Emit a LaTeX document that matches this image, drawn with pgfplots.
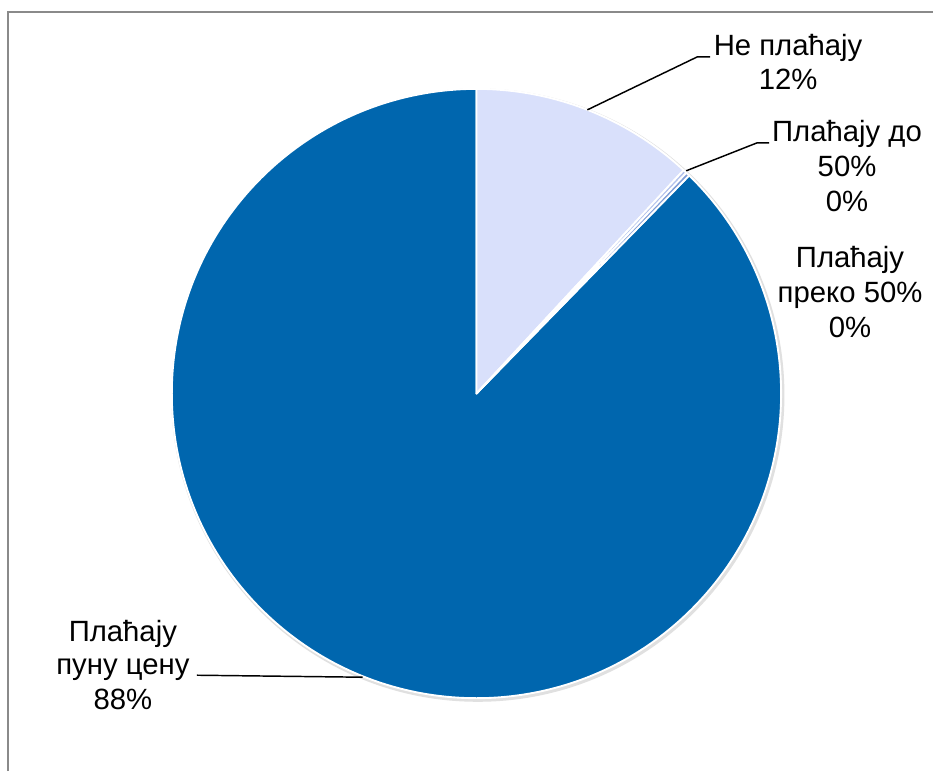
\documentclass[border=0pt]{standalone}
\usepackage{pgfplots}
\pgfplotsset{compat=1.18}
\usepackage{pgfplotstable}
\usepackage{fontspec}
\setmainfont{Liberation Sans}

\definecolor{pieLight}{HTML}{D9E0FB}
\definecolor{pieMidA}{HTML}{B3C2EC}
\definecolor{pieMidB}{HTML}{7F9CD6}
\definecolor{pieDark}{HTML}{0066AE}
\definecolor{frameGray}{HTML}{8A8A8A}

% shares in percent, clockwise from 12 o'clock
\pgfplotstableread{
idx value
0   11.9
1   0.2
2   0.2
3   87.7
}\piedata

\pgfplotstablegetelem{0}{value}\of\piedata \let\vA\pgfplotsretval
\pgfplotstablegetelem{1}{value}\of\piedata \let\vB\pgfplotsretval
\pgfplotstablegetelem{2}{value}\of\piedata \let\vC\pgfplotsretval
\pgfplotstablegetelem{3}{value}\of\piedata \let\vD\pgfplotsretval
\pgfmathsetmacro\aA{90}
\pgfmathsetmacro\aB{\aA-3.6*\vA}
\pgfmathsetmacro\aC{\aB-3.6*\vB}
\pgfmathsetmacro\aD{\aC-3.6*\vC}
\pgfmathsetmacro\aE{\aD-3.6*\vD}

\newcommand\R{228.75pt}
\newcommand\slice[3]{%
  \fill[#1, draw=white, line width=1.4pt, line join=round]
    (axis cs:477,378) -- ([shift={(#2:\R)}]axis cs:477,378)
    arc[start angle=#2, end angle=#3, radius=\R] -- cycle;}

\begin{document}
\begin{tikzpicture}
\begin{axis}[
    disabledatascaling,
    x=0.75pt, y=0.75pt,
    xmin=0, xmax=934, ymin=0, ymax=772,
    hide axis, clip=false,
  ]
  \fill[white] (axis cs:0,0) rectangle (axis cs:934,772);
  \draw[frameGray, line width=1.6pt] (axis cs:8,0) -- (axis cs:8,760) -- (axis cs:934,760);

  % soft shadow round the pie
  \draw[black!12, line width=3pt] ([shift={(1pt,-1.2pt)}]axis cs:477,378) circle[radius=\R];

  \slice{pieDark}{\aD}{\aE}
  \slice{pieLight}{\aA}{\aB}
  \slice{pieMidA}{\aB}{\aC}
  \slice{pieMidB}{\aC}{\aD}

  % leader lines
  \draw[black, line width=1.1pt] (axis cs:588,662) -- (axis cs:698,715) -- (axis cs:711,715);
  \draw[black, line width=1.1pt] (axis cs:687,601) -- (axis cs:758,629) -- (axis cs:770,629);
  \draw[black, line width=1.1pt] (axis cs:197,96) -- (axis cs:363,94);

  \tikzset{lbl/.style={anchor=base, inner sep=0pt, font=\fontsize{22}{26}\selectfont}}
  \node[lbl] at (axis cs:789,716) {Не плаћају};
  \node[lbl] at (axis cs:789,682) {12\%};

  \node[lbl] at (axis cs:848,630) {Плаћају до};
  \node[lbl] at (axis cs:848,595) {50\%};
  \node[lbl] at (axis cs:848,560) {0\%};

  \node[lbl] at (axis cs:851,504) {Плаћају};
  \node[lbl] at (axis cs:851,469) {преко 50\%};
  \node[lbl] at (axis cs:851,434) {0\%};

  \node[lbl] at (axis cs:123,130) {Плаћају};
  \node[lbl] at (axis cs:123,97) {пуну цену};
  \node[lbl] at (axis cs:123,62) {88\%};
\end{axis}
\end{tikzpicture}
\end{document}
